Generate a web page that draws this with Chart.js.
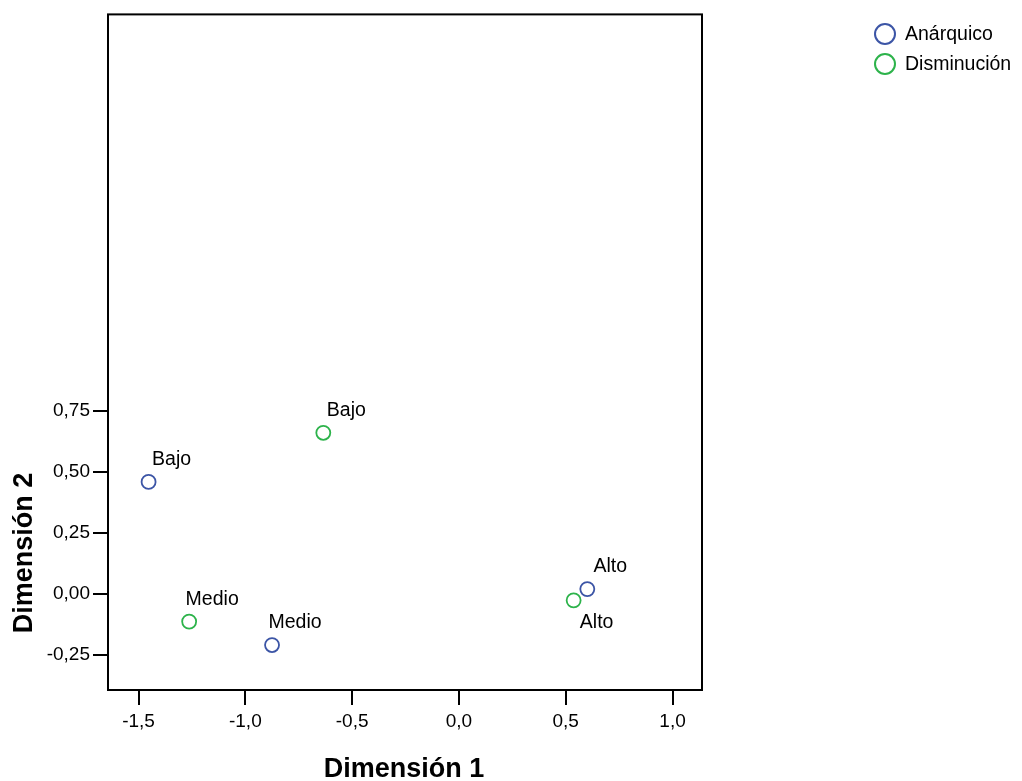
<!DOCTYPE html>
<html lang="es">
<head>
  <meta charset="UTF-8">
  <title>Dimensión 1 / Dimensión 2</title>
  <script src="https://cdn.jsdelivr.net/npm/chart.js"></script>
  <style>
    body { margin: 0; background: #fff; }
    canvas { display: block; }
  </style>
</head>
<body>
  <canvas id="grafica" width="1022" height="781"></canvas>

  <script>
    // datos
    const categorias = ['Bajo', 'Medio', 'Alto'];
    const anarquicoX = [-1.453, -0.875, 0.601];
    const anarquicoY = [0.459, -0.209, 0.020];
    const disminucionX = [-0.635, -1.263, 0.537];
    const disminucionY = [0.660, -0.113, -0.026];

    const ticksX = [-1.5, -1.0, -0.5, 0.0, 0.5, 1.0];
    const etiquetasX = ['-1,5', '-1,0', '-0,5', '0,0', '0,5', '1,0'];
    const ticksY = [-0.25, 0.0, 0.25, 0.5, 0.75];
    const etiquetasY = ['-0,25', '0,00', '0,25', '0,50', '0,75'];

    const azul = '#3c55a6';
    const verde = '#2db34b';
    const fuente = '"Liberation Sans", Arial, sans-serif';

    function puntos(xs, ys) {
      return xs.map((x, i) => ({ x: x, y: ys[i], etiqueta: categorias[i] }));
    }

    // etiquetas de cada punto, centradas arriba a la derecha (la verde "Alto" va abajo)
    const etiquetasPuntos = {
      id: 'etiquetasPuntos',
      afterDatasetsDraw(chart) {
        const ctx = chart.ctx;
        ctx.save();
        ctx.font = '19.5px ' + fuente;
        ctx.fillStyle = '#000';
        ctx.textAlign = 'center';
        ctx.textBaseline = 'alphabetic';
        chart.data.datasets.forEach((ds, di) => {
          chart.getDatasetMeta(di).data.forEach((p, i) => {
            const abajo = di === 1 && ds.data[i].etiqueta === 'Alto';
            ctx.fillText(ds.data[i].etiqueta, p.x + 23, abajo ? p.y + 28 : p.y - 17);
          });
        });
        ctx.restore();
      }
    };

    // marco, títulos de ejes y leyenda
    const decoracion = {
      id: 'decoracion',
      afterDraw(chart) {
        const ctx = chart.ctx;
        const a = chart.chartArea;
        ctx.save();
        ctx.strokeStyle = '#000';
        ctx.lineWidth = 2;
        ctx.strokeRect(a.left, a.top, a.right - a.left, a.bottom - a.top);

        ctx.fillStyle = '#000';
        ctx.font = 'bold 27px ' + fuente;
        ctx.textAlign = 'center';
        ctx.textBaseline = 'middle';
        ctx.fillText('Dimensión 1', 404, 770);
        ctx.translate(25, 553);
        ctx.rotate(-Math.PI / 2);
        ctx.fillText('Dimensión 2', 0, 0);
        ctx.restore();

        ctx.save();
        ctx.font = '19.5px ' + fuente;
        ctx.textAlign = 'left';
        ctx.textBaseline = 'middle';
        chart.data.datasets.forEach((ds, i) => {
          const y = 34 + i * 30;
          ctx.beginPath();
          ctx.arc(885, y, 10, 0, Math.PI * 2);
          ctx.strokeStyle = ds.borderColor;
          ctx.lineWidth = 2;
          ctx.stroke();
          ctx.fillStyle = '#000';
          ctx.fillText(ds.label, 905, y + 1);
        });
        ctx.restore();
      }
    };

    const ctx = document.getElementById('grafica').getContext('2d');
    new Chart(ctx, {
      type: 'scatter',
      data: {
        datasets: [
          {
            label: 'Anárquico',
            data: puntos(anarquicoX, anarquicoY),
            borderColor: azul,
            backgroundColor: 'rgba(0,0,0,0)',
            pointRadius: 7,
            pointBorderWidth: 1.8,
            pointHoverRadius: 7
          },
          {
            label: 'Disminución',
            data: puntos(disminucionX, disminucionY),
            borderColor: verde,
            backgroundColor: 'rgba(0,0,0,0)',
            pointRadius: 7,
            pointBorderWidth: 1.8,
            pointHoverRadius: 7
          }
        ]
      },
      options: {
        responsive: false,
        animation: false,
        events: [],
        layout: { padding: { top: 14, right: 320, left: 0, bottom: 0 } },
        plugins: {
          legend: { display: false },
          tooltip: { enabled: false }
        },
        scales: {
          x: {
            type: 'linear',
            min: -1.643,
            max: 1.138,
            afterBuildTicks: s => { s.ticks = ticksX.map(v => ({ value: v })); },
            afterFit: s => { s.height = 91; },
            border: { display: false },
            grid: { drawOnChartArea: false, tickLength: 15, color: '#000', lineWidth: 2 },
            ticks: {
              padding: 5,
              color: '#000',
              font: { family: fuente, size: 19 },
              maxRotation: 0,
              callback: (v) => etiquetasX[ticksX.indexOf(v)]
            }
          },
          y: {
            type: 'linear',
            min: -0.393,
            max: 2.373,
            afterBuildTicks: s => { s.ticks = ticksY.map(v => ({ value: v })); },
            afterFit: s => { s.width = 108; },
            border: { display: false },
            grid: { drawOnChartArea: false, tickLength: 15, color: '#000', lineWidth: 2 },
            ticks: {
              padding: 3,
              color: '#000',
              font: { family: fuente, size: 19 },
              callback: (v) => etiquetasY[ticksY.indexOf(v)]
            }
          }
        }
      },
      plugins: [etiquetasPuntos, decoracion]
    });
  </script>
</body>
</html>
